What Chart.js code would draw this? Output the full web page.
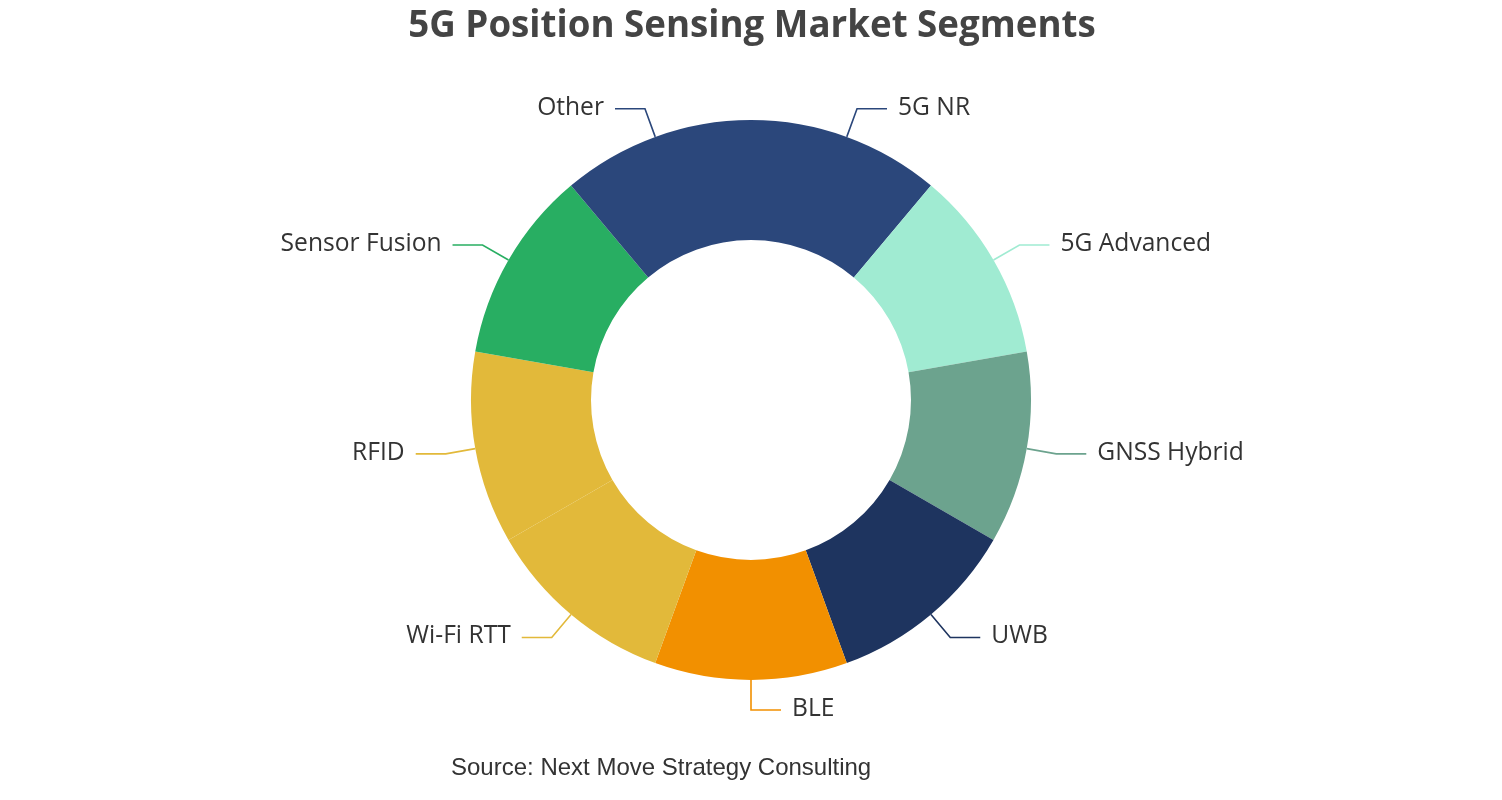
<!DOCTYPE html>
<html>
<head>
<meta charset="utf-8">
<script src="https://cdn.jsdelivr.net/npm/chart.js@4.4.1/dist/chart.umd.min.js"></script>
<style>
  html, body { margin: 0; padding: 0; background: #ffffff; }
  #wrap { position: relative; width: 1502px; height: 800px; }
</style>
</head>
<body>
<div id="wrap"><canvas id="c"></canvas></div>
<script>
const categories = ['5G NR', '5G Advanced', 'GNSS Hybrid', 'UWB', 'BLE', 'Wi-Fi RTT', 'RFID', 'Sensor Fusion', 'Other'];
const shares = [11.1, 11.1, 11.1, 11.1, 11.1, 11.1, 11.1, 11.1, 11.1];
const sliceColors = ['#2b477b', '#a0ebd2', '#6ca38e', '#1e345f', '#f29000', '#e2b93a', '#e2b93a', '#28ae62', '#2b477b'];
const titleText = '5G Position Sensing Market Segments';
const sourceText = 'Source: Next Move Strategy Consulting';

const labelPlugin = {
  id: 'outLabels',
  afterDatasetsDraw(chart) {
    const ctx = chart.ctx;
    const meta = chart.getDatasetMeta(0);
    ctx.save();
    ctx.font = '24.6px "Open Sans", "Noto Sans", sans-serif';
    ctx.textBaseline = 'middle';
    meta.data.forEach((arc, i) => {
      const p = arc.getProps(['x', 'y', 'startAngle', 'endAngle', 'outerRadius'], true);
      const mid = (p.startAngle + p.endAngle) / 2;
      const c = Math.cos(mid), s = Math.sin(mid);
      const x0 = p.x + c * p.outerRadius, y0 = p.y + s * p.outerRadius;
      const x1 = p.x + c * (p.outerRadius + 30), y1 = p.y + s * (p.outerRadius + 30);
      const right = c > -1e-6;
      const x2 = x1 + (right ? 30 : -30);
      ctx.strokeStyle = sliceColors[i];
      ctx.lineWidth = 1.6;
      ctx.beginPath();
      ctx.moveTo(x0, y0);
      ctx.lineTo(x1, y1);
      ctx.lineTo(x2, y1);
      ctx.stroke();
      ctx.fillStyle = '#333333';
      ctx.textAlign = right ? 'left' : 'right';
      ctx.fillText(categories[i], x2 + (right ? 11 : -11), y1 - 1);
    });
    ctx.restore();
  },
  afterDraw(chart) {
    const ctx = chart.ctx;
    ctx.save();
    ctx.fillStyle = '#444444';
    ctx.font = 'bold 36.7px "Open Sans", "Noto Sans", sans-serif';
    ctx.textAlign = 'center';
    ctx.textBaseline = 'alphabetic';
    ctx.fillText(titleText, 752, 37);
    ctx.fillStyle = '#333333';
    ctx.font = '24px "Liberation Sans", Arial, sans-serif';
    ctx.textAlign = 'left';
    ctx.fillText(sourceText, 451, 775);
    ctx.restore();
  }
};

new Chart(document.getElementById('c'), {
  type: 'doughnut',
  data: {
    labels: categories,
    datasets: [{
      data: shares,
      backgroundColor: sliceColors,
      borderWidth: 0,
      hoverOffset: 0,
      offset: 0
    }]
  },
  options: {
    responsive: true,
    maintainAspectRatio: false,
    animation: false,
    cutout: '57.14%',
    layout: { padding: { top: 120, bottom: 120, left: 0, right: 0 } },
    plugins: {
      legend: { display: false },
      title: { display: false },
      tooltip: { enabled: false }
    },
    events: []
  },
  plugins: [labelPlugin]
});
</script>
</body>
</html>
